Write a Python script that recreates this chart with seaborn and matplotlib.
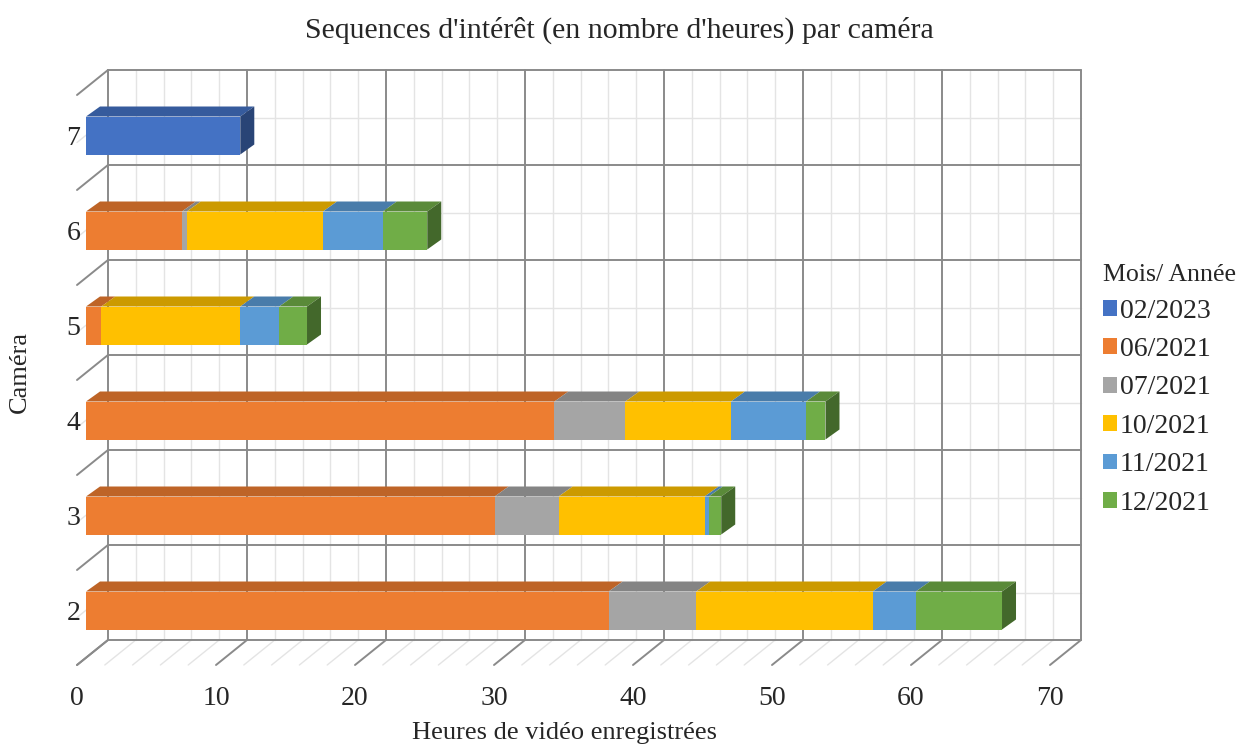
import matplotlib
matplotlib.use("Agg")
import matplotlib.pyplot as plt
import seaborn as sns
import numpy as np
import pandas as pd
from matplotlib.patches import Polygon, Patch
from matplotlib.transforms import ScaledTranslation

# ---------------- data ----------------
cameras = ["2", "3", "4", "5", "6", "7"]
s_0621 = [37.6, 29.4, 33.7, 1.1, 6.9, 0.0]
s_0721 = [6.3, 4.6, 5.1, 0.0, 0.35, 0.0]
s_1021 = [12.7, 10.5, 7.6, 10.0, 9.8, 0.0]
s_1121 = [3.1, 0.3, 5.4, 2.8, 4.3, 0.0]
s_1221 = [6.2, 0.9, 1.4, 2.0, 3.2, 0.0]
s_0223 = [0.0, 0.0, 0.0, 0.0, 0.0, 11.1]

series_names = ["02/2023", "06/2021", "07/2021", "10/2021", "11/2021", "12/2021"]
stack_order = ["02/2023", "06/2021", "07/2021", "10/2021", "11/2021", "12/2021"]
series_vals = {"02/2023": s_0223, "06/2021": s_0621, "07/2021": s_0721,
               "10/2021": s_1021, "11/2021": s_1121, "12/2021": s_1221}
colors = {"02/2023": "#4472C4", "06/2021": "#ED7D31", "07/2021": "#A5A5A5",
          "10/2021": "#FFC000", "11/2021": "#5B9BD5", "12/2021": "#70AD47"}
xticks = [0, 10, 20, 30, 40, 50, 60, 70]

title = "Sequences d'intérêt (en nombre d'heures) par caméra"
xlabel = "Heures de vidéo enregistrées"
ylabel = "Caméra"
legend_title = "Mois/ Année"

# ---------------- style ----------------
sns.set_style("white")
plt.rcParams["font.family"] = ["Liberation Serif", "DejaVu Serif"]
FS = 20

W, H = 1239, 745
fig = plt.figure(figsize=(W / 100, H / 100), dpi=100)
ax_l, ax_r, ax_t, ax_b = 86, 1059, 88, 658
ax = fig.add_axes([ax_l / W, 1 - ax_b / H, (ax_r - ax_l) / W, (ax_b - ax_t) / H])

order = cameras[::-1]  # 7 at top
XMAX = 70
px_per_x = (ax_r - ax_l) / XMAX
px_per_y = (ax_b - ax_t) / len(cameras)
BAR_H = 0.4

df = pd.DataFrame({"camera": cameras})
for s in stack_order:
    df[s] = series_vals[s]
cum = df[stack_order].cumsum(axis=1)

# front faces: draw cumulative totals from last to first
for s in reversed(stack_order):
    sns.barplot(data=pd.DataFrame({"camera": cameras, "v": cum[s]}), x="v", y="camera",
                order=order, orient="h", color=colors[s], width=BAR_H,
                linewidth=0, saturation=1, ax=ax, zorder=3)

ax.set_xlim(0, XMAX)
ax.set_ylim(len(cameras) - 0.5, -0.5)

def shade(c, f):
    r, g, b = matplotlib.colors.to_rgb(c)
    return (r * f, g * f, b * f)

# 3D top and side faces
ddx = 14 / px_per_x
ddy = 10 / px_per_y
for i, cam in enumerate(cameras):
    yc = order.index(cam)
    top = yc - BAR_H / 2
    bot = yc + BAR_H / 2
    left = 0.0
    last_right, last_col = None, None
    for s in stack_order:
        v = series_vals[s][i]
        if v <= 0:
            continue
        right = left + v
        ax.add_patch(Polygon([(left, top), (right, top), (right + ddx, top - ddy),
                              (left + ddx, top - ddy)], closed=True,
                             facecolor=shade(colors[s], 0.8), edgecolor="none", zorder=4))
        last_right, last_col = right, colors[s]
        left = right
    if last_right is not None:
        ax.add_patch(Polygon([(last_right, top), (last_right, bot),
                              (last_right + ddx, bot - ddy), (last_right + ddx, top - ddy)],
                             closed=True, facecolor=shade(last_col, 0.6),
                             edgecolor="none", zorder=4))

# walls / grid
def off(dx, dy):
    return ax.transData + ScaledTranslation(dx / 100, dy / 100, fig.dpi_scale_trans)

back = off(22, 18)
front = off(-9, -7)
dark = "#8a8a8a"
light = "#e4e4e4"
ylo, yhi = len(cameras) - 0.5, -0.5
# back wall minor
for x in np.arange(0, XMAX + 0.1, 2):
    if x % 10:
        ax.plot([x, x], [ylo, yhi], color=light, lw=1, transform=back, clip_on=False, zorder=0)
for yc in range(len(cameras)):
    ax.plot([0, XMAX], [yc, yc], color=light, lw=1, transform=back, clip_on=False, zorder=0)
# back wall major
for x in xticks:
    ax.plot([x, x], [ylo, yhi], color=dark, lw=1.4, transform=back, clip_on=False, zorder=1)
for yb in np.arange(-0.5, len(cameras), 1.0):
    ax.plot([0, XMAX], [yb, yb], color=dark, lw=1.4, transform=back, clip_on=False, zorder=1)

# floor and left wall diagonals
def diag(x, y, col, lw, z):
    p0 = front.transform((x, y))
    p1 = back.transform((x, y))
    fig.add_artist(plt.Line2D([p0[0] / W, p1[0] / W], [p0[1] / H, p1[1] / H],
                              transform=fig.transFigure, color=col, lw=lw, zorder=z))

for x in np.arange(0, XMAX + 0.1, 2):
    if x % 10:
        diag(x, ylo, light, 1, 0)
for yc in range(len(cameras)):
    diag(0, yc, light, 1, 0)
for x in xticks:
    diag(x, ylo, dark, 1.4, 1)
for yb in np.arange(-0.5, len(cameras), 1.0):
    diag(0, yb, dark, 1.4, 1)

for sp in ax.spines.values():
    sp.set_visible(False)
ax.patch.set_alpha(0)
ax.set_xticks(xticks)
ax.set_xticklabels([str(t) for t in xticks], fontsize=FS)
ax.tick_params(axis="x", length=0, pad=20.5)
for lab in ax.get_xticklabels():
    lab.set_transform(lab.get_transform() + ScaledTranslation(-9 / 100, 0, fig.dpi_scale_trans))
ax.tick_params(axis="y", length=0, pad=4, labelsize=FS)
ax.set_xlabel("")
ax.set_ylabel("")

fig.text(619 / W, 1 - 30 / H, title, ha="center", va="center", fontsize=21.5)
fig.text(564 / W, 1 - 733 / H, xlabel, ha="center", va="center", fontsize=19)
fig.text(20 / W, 1 - 372 / H, ylabel, ha="center", va="center", rotation=90, fontsize=19)

handles = [Patch(facecolor=colors[s], edgecolor="none") for s in series_names]
leg = fig.legend(handles, series_names, title=legend_title, loc="upper left",
                 bbox_to_anchor=(1103 / W, 1 - 264 / H), frameon=False, fontsize=FS,
                 title_fontsize=18.6, alignment="left", handlelength=0.5, handleheight=0.5,
                 handletextpad=0.1, labelspacing=0.485, borderpad=0, borderaxespad=0)
leg._legend_box.sep = 9

fig.savefig("out.png", dpi=100)
